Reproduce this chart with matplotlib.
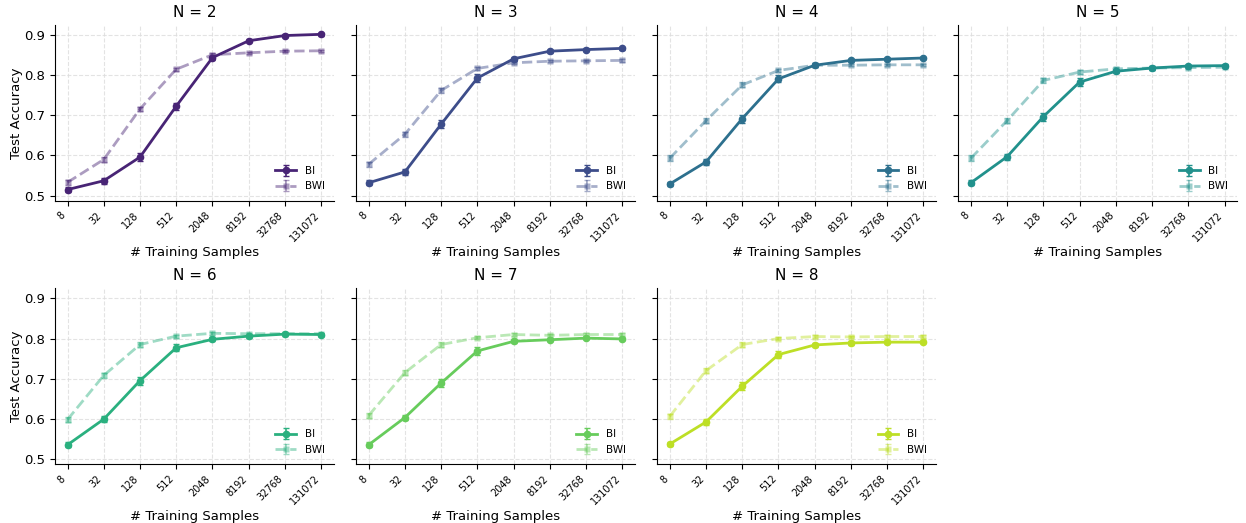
import numpy as np
import matplotlib
matplotlib.use('Agg')
import matplotlib.pyplot as plt

sample_labels = ['8', '32', '128', '512', '2048', '8192', '32768', '131072']
n_values = [2, 3, 4, 5, 6, 7, 8]

# test accuracy (BI = solid, BWI = dashed)
bi = {
    2: [0.515, 0.537, 0.596, 0.723, 0.844, 0.886, 0.899, 0.902],
    3: [0.532, 0.559, 0.678, 0.793, 0.841, 0.860, 0.864, 0.867],
    4: [0.529, 0.584, 0.692, 0.791, 0.825, 0.837, 0.840, 0.843],
    5: [0.532, 0.597, 0.697, 0.783, 0.810, 0.818, 0.823, 0.824],
    6: [0.535, 0.599, 0.695, 0.777, 0.798, 0.806, 0.811, 0.810],
    7: [0.535, 0.603, 0.689, 0.769, 0.793, 0.797, 0.801, 0.799],
    8: [0.537, 0.592, 0.681, 0.760, 0.784, 0.789, 0.791, 0.791],
}
bwi = {
    2: [0.533, 0.590, 0.716, 0.815, 0.851, 0.856, 0.860, 0.861],
    3: [0.578, 0.653, 0.762, 0.817, 0.831, 0.835, 0.836, 0.837],
    4: [0.593, 0.687, 0.776, 0.812, 0.825, 0.825, 0.826, 0.826],
    5: [0.593, 0.687, 0.787, 0.808, 0.816, 0.818, 0.819, 0.820],
    6: [0.598, 0.708, 0.785, 0.806, 0.813, 0.812, 0.812, 0.812],
    7: [0.608, 0.715, 0.785, 0.802, 0.810, 0.808, 0.810, 0.810],
    8: [0.606, 0.720, 0.785, 0.800, 0.805, 0.804, 0.805, 0.805],
}
bi_err = [0.006, 0.007, 0.010, 0.009, 0.005, 0.004, 0.003, 0.003]
bwi_err = [0.007, 0.006, 0.006, 0.004, 0.004, 0.003, 0.003, 0.003]

colors = plt.cm.viridis(np.linspace(0.1, 0.9, len(n_values)))

fig, axes = plt.subplots(2, 4, figsize=(12.46, 5.23), dpi=100, sharey='row')
fig.subplots_adjust(left=0.044, right=0.993, top=0.952, bottom=0.113,
                    wspace=0.079, hspace=0.50)
axes = axes.flatten()
x = np.arange(len(sample_labels))

for i, n in enumerate(n_values):
    ax = axes[i]
    c = colors[i]
    ax.errorbar(x, bi[n], yerr=bi_err, color=c, marker='o', ms=4.5, lw=2,
                capsize=2, elinewidth=1.2, label='BI')
    ax.errorbar(x, bwi[n], yerr=bwi_err, color=c, alpha=0.45, marker='s', ms=5,
                mec='none', lw=2, ls='--', capsize=2, elinewidth=1.2, label='BWI')
    ax.set_title(f'N = {n}', fontsize=11)
    ax.set_xticks(x)
    ax.set_xticklabels(sample_labels, rotation=45, ha='right', fontsize=7)
    ax.set_xlabel('# Training Samples', fontsize=9.5, labelpad=2)
    ax.set_ylim(0.4875, 0.925)
    ax.set_yticks([0.5, 0.6, 0.7, 0.8, 0.9])
    ax.tick_params(axis='y', labelsize=9.5)
    ax.set_xlim(-0.35, 7.35)
    ax.grid(True, ls='--', color='#dddddd', lw=0.8, alpha=0.8)
    ax.spines['top'].set_visible(False)
    ax.spines['right'].set_visible(False)
    ax.legend(loc='lower right', fontsize=7.5, frameon=False)
    if i % 4 == 0:
        ax.set_ylabel('Test Accuracy', fontsize=9.5, labelpad=1)

axes[7].remove()

plt.savefig('out.png', dpi=100)
